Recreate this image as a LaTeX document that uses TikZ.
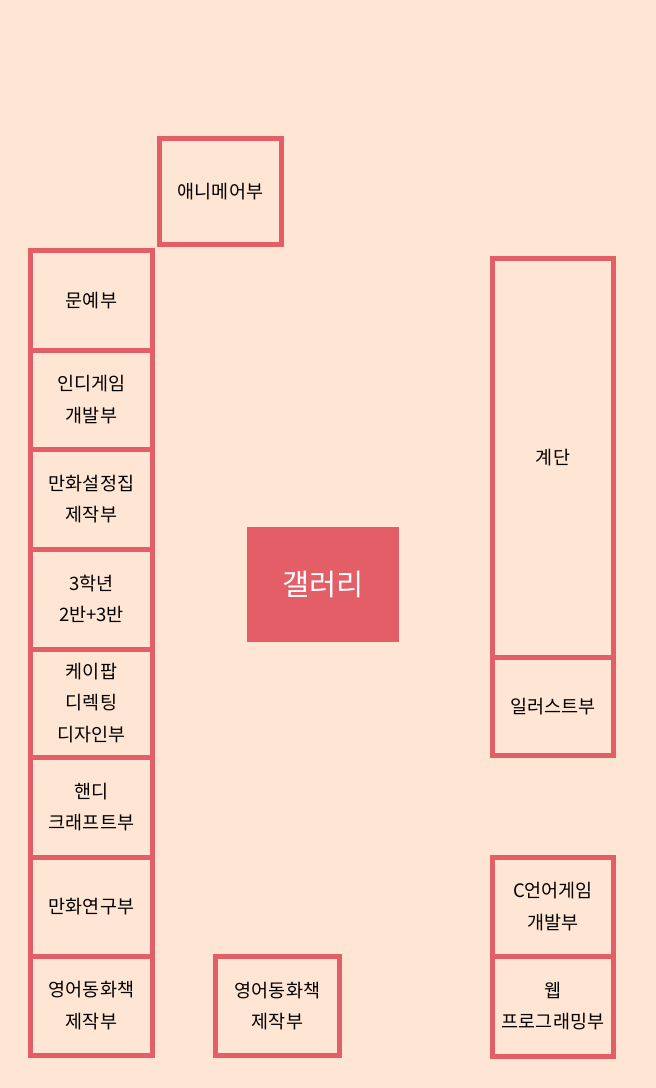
\documentclass[tikz,border=0pt]{standalone}
\usepackage{fontspec}
\setmainfont{Noto Sans CJK KR}
\definecolor{peach}{RGB}{255,229,211}
\definecolor{rose}{RGB}{228,94,104}
\begin{document}
\begin{tikzpicture}[x=1pt,y=-1pt,
  room/.style={draw=rose,line width=5pt,align=center,inner sep=0pt,
    font=\fontsize{18.5}{31.5}\selectfont},
  hall/.style={fill=rose,text=white,inner sep=0pt,font=\fontsize{29.5}{34}\selectfont}]
\fill[peach] (0,0) rectangle (656,1088);
\useasboundingbox (0,0) rectangle (656,1088);

\node[room,minimum width=122pt,minimum height=105.5pt] (anime) at (220.5,191.25) {애니메어부};

\foreach \t/\b/\n/\txt in {250.5/350/munye/문예부,
  350/449/indie/인디게임\\개발부,
  449/549/setting/만화설정집\\제작부,
  549/649/class/3학년\\2반+3반,
  649/757/kpop/케이팝\\디렉팅\\디자인부,
  757/857/craft/핸디\\크래프트부,
  857/956/manhwa/만화연구부,
  956/1055.5/eng/영어동화책\\제작부}
  \node[room,minimum width=122pt,minimum height={\b-\t}] (\n) at (91.5,{(\t+\b)/2}) {\txt};

\node[room,minimum width=124pt,minimum height=99pt] (engb) at (277.5,1006) {영어동화책\\제작부};

\node[hall,minimum width=152pt,minimum height=115pt] (gallery) at (323,584.5) {갤러리};

\node[room,minimum width=121pt,minimum height=398.5pt] (stairs) at (553,457.75) {계단};
\node[room,minimum width=121pt,minimum height=98.5pt] (illust) at (553,706.25) {일러스트부};
\node[room,minimum width=121pt,minimum height=99pt] (cgame) at (553,906.5) {C언어게임\\개발부};
\node[room,minimum width=121pt,minimum height=100pt] (web) at (553,1006) {웹\\프로그래밍부};
\end{tikzpicture}
\end{document}
